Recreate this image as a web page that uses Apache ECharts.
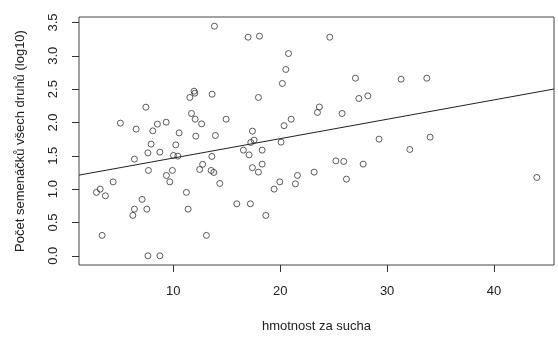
<!DOCTYPE html>
<html>
<head>
<meta charset="utf-8">
<script src="https://cdn.jsdelivr.net/npm/echarts@6/dist/echarts.min.js"></script>
<style>html,body{margin:0;padding:0;background:#fff}#c{width:558px;height:338px}</style>
</head>
<body>
<div id="c"></div>
<script>
// hmotnost za sucha (x)
const xValues = [11.96,12.03,11.56,7.45,11.71,12.06,12.66,5.07,6.54,8.53,9.35,8.10,10.56,12.12,7.94,10.25,7.64,8.76,10.03,10.44,
  6.38,12.76,12.48,7.69,9.93,9.37,9.69,4.39,3.18,2.83,3.67,11.24,7.10,6.38,7.54,11.40,6.23,3.36,7.64,8.76,
  13.86,17.01,18.07,24.64,20.78,20.53,20.21,13.64,17.97,23.67,23.49,14.95,21.03,20.37,13.95,17.41,17.57,17.26,20.09,13.62,
  16.57,17.10,18.32,13.55,13.80,17.41,18.32,17.97,14.36,21.62,23.18,19.97,19.44,21.43,15.95,17.22,18.66,13.11,
  27.04,31.31,33.71,27.36,28.20,25.79,29.25,34.02,32.12,25.21,25.95,27.76,26.20,43.99];
// Počet semenáčků všech druhů (log10) (y)
const yValues = [2.469,2.439,2.375,2.229,2.135,2.049,1.979,1.990,1.900,1.975,2.004,1.874,1.844,1.795,1.675,1.664,1.544,1.555,1.505,1.495,
  1.450,1.372,1.295,1.280,1.280,1.205,1.109,1.109,1.000,0.951,0.900,0.951,0.846,0.700,0.700,0.700,0.606,0.306,0,0,
  3.444,3.279,3.294,3.279,3.034,2.795,2.585,2.424,2.375,2.232,2.150,2.049,2.049,1.952,1.805,1.870,1.735,1.700,1.705,1.490,
  1.585,1.514,1.585,1.280,1.250,1.322,1.375,1.255,1.085,1.205,1.255,1.109,1.000,1.079,0.780,0.780,0.606,0.306,
  2.664,2.649,2.664,2.360,2.399,2.135,1.750,1.780,1.595,1.424,1.415,1.375,1.150,1.175];
const xTicks = [10, 20, 30, 40];
const yTicks = [0, 0.5, 1, 1.5, 2, 2.5, 3, 3.5];
const yTickLabels = ['0.0','0.5','1.0','1.5','2.0','2.5','3.0','3.5'];
// regression line (abline)
const lineIntercept = 1.175;
const lineSlope = 0.0291;

const xMin = 1.2, xMax = 45.6, yMin = -0.138, yMax = 3.582;
const points = xValues.map((x, i) => [x, yValues[i]]);
const linePts = [[xMin, lineIntercept + lineSlope * xMin], [xMax, lineIntercept + lineSlope * xMax]];

const font = 'Liberation Sans, Arial, sans-serif';
const chart = echarts.init(document.getElementById('c'), null, {renderer: 'canvas'});
chart.setOption({
  animation: false,
  backgroundColor: '#fff',
  grid: {left: 79, right: 4, top: 17, bottom: 73, show: true, borderColor: '#444', borderWidth: 1, backgroundColor: 'transparent'},
  xAxis: {
    type: 'value', min: xMin, max: xMax,
    name: 'hmotnost za sucha', nameLocation: 'middle', nameGap: 55,
    nameTextStyle: {fontFamily: font, fontSize: 13, color: '#222'},
    axisLine: {show: false, onZero: false},
    splitLine: {show: false},
    axisTick: {show: true, inside: false, length: 7, customValues: xTicks, lineStyle: {color: '#333'}},
    axisLabel: {show: true, customValues: xTicks, margin: 20, fontFamily: font, fontSize: 13, color: '#222'}
  },
  yAxis: {
    type: 'value', min: yMin, max: yMax,
    name: 'Počet semenáčků všech druhů (log10)', nameLocation: 'middle', nameGap: 52,
    nameTextStyle: {fontFamily: font, fontSize: 13, color: '#222'},
    axisLine: {show: false, onZero: false},
    splitLine: {show: false},
    axisTick: {show: true, inside: false, length: 7, customValues: yTicks, lineStyle: {color: '#333'}},
    axisLabel: {show: true, customValues: yTicks, rotate: 90, margin: 19, fontFamily: font, fontSize: 13, color: '#222',
      formatter: v => { const i = yTicks.findIndex(t => Math.abs(t - v) < 1e-9); return i >= 0 ? yTickLabels[i] : ''; }}
  },
  series: [
    {type: 'scatter', data: points, symbol: 'circle', symbolSize: 6,
     itemStyle: {color: 'rgba(0,0,0,0)', borderColor: '#333', borderWidth: 1}, silent: true},
    {type: 'line', data: linePts, symbol: 'none', lineStyle: {color: '#222', width: 1}, silent: true}
  ]
});
</script>
</body>
</html>
